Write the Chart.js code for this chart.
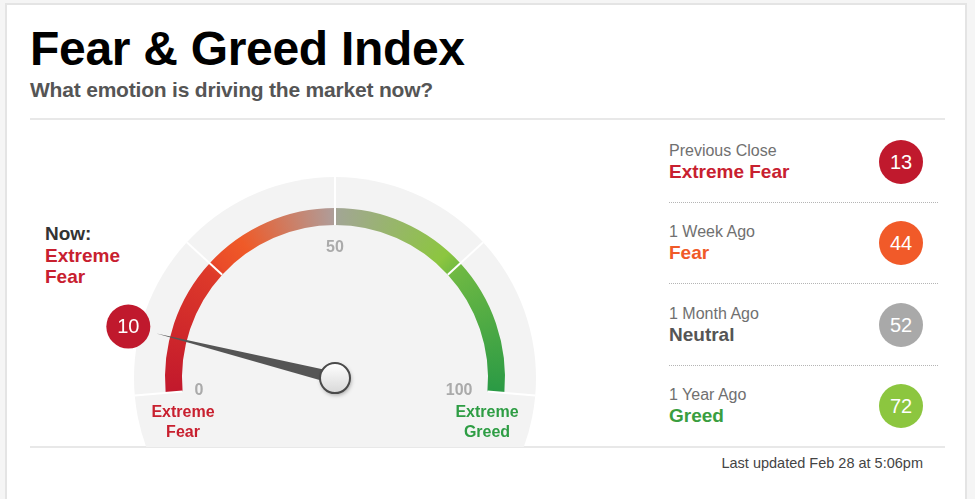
<!DOCTYPE html>
<html>
<head>
<meta charset="utf-8">
<title>Fear &amp; Greed Index</title>
<script src="https://cdn.jsdelivr.net/npm/chart.js@4.4.1/dist/chart.umd.min.js"></script>
<style>
  body { margin: 0; background: #f5f5f5; font-family: "Liberation Sans", Arial, sans-serif; }
  #frame { position: absolute; left: 5px; top: 3px; width: 958px; height: 600px; background: #fff; border: 2px solid #e4e4e4; }
  .abs { position: absolute; white-space: nowrap; }
  #title { left: 30px; top: 21px; font-size: 48px; font-weight: bold; color: #000; line-height: 56px; letter-spacing: -0.3px; }
  #subtitle { left: 30px; top: 78px; font-size: 21px; font-weight: bold; color: #555; line-height: 24px; letter-spacing: -0.2px; }
  .rule { position: absolute; left: 30px; width: 915px; height: 2px; background: #e8e8e8; }
  #now { left: 45px; top: 223px; font-size: 19px; font-weight: bold; line-height: 21.5px; }
  #updated { right: 52px; top: 455px; font-size: 14.5px; color: #444; }
  #gauge-wrap { position: absolute; left: 85px; top: 170px; width: 500px; height: 277px; }
  .hist-label { position: absolute; left: 669px; font-size: 16px; color: #707070; line-height: 18px; white-space: nowrap; }
  .hist-rating { position: absolute; left: 669px; font-size: 19px; font-weight: bold; line-height: 21px; white-space: nowrap; }
  .hist-bubble { position: absolute; left: 879px; width: 44px; height: 44px; border-radius: 50%; color: #fff; font-size: 20px; line-height: 44px; text-align: center; }
  .dots { position: absolute; left: 669px; width: 269px; border-top: 1px dotted #b5b5b5; }
</style>
</head>
<body>
<div id="frame"></div>
<div id="title" class="abs">Fear &amp; Greed Index</div>
<div id="subtitle" class="abs">What emotion is driving the market now?</div>
<div class="rule" style="top:118px"></div>
<div class="rule" style="top:446px"></div>
<div id="now" class="abs"></div>
<div id="gauge-wrap"><canvas id="gauge"></canvas></div>
<div id="history"></div>
<div id="updated" class="abs">Last updated Feb 28 at 5:06pm</div>

<script>
// gauge data
const bandEdges = [0, 25, 50, 75, 100];
const tickLabels = [0, 50, 100];
const currentValue = 10;
const currentRating = 'Extreme Fear';
const zoneLabels = [['Extreme', 'Fear'], ['Extreme', 'Greed']];

// history panel
const historyLabels = ['Previous Close', '1 Week Ago', '1 Month Ago', '1 Year Ago'];
const historyValues = [13, 44, 52, 72];
const historyRatings = ['Extreme Fear', 'Fear', 'Neutral', 'Greed'];

const ratingText = {
    'Extreme Fear': '#c8202f',
    'Fear': '#f05a28',
    'Neutral': '#555555',
    'Greed': '#3a9e3f',
    'Extreme Greed': '#2e9d44'
};
const ratingBubble = {
    'Extreme Fear': '#c0192d',
    'Fear': '#f15a29',
    'Neutral': '#a9a9a9',
    'Greed': '#8cc63f',
    'Extreme Greed': '#2e9d44'
};

// colour along the arc, by value
const arcStops = [
    [0, '#c2182c'], [24, '#de3a2a'],
    [26, '#ea4b29'], [32, '#ef5a28'], [49.5, '#b09c98'],
    [50.5, '#a2a694'], [72, '#8cc63f'],
    [76, '#6db843'], [100, '#2a9a45']
];

const SPAN = 190;
const ROT = -95;

function renderNow() {
    const el = document.getElementById('now');
    el.innerHTML = '<div style="color:#333">Now:</div>' +
        currentRating.split(' ').map(w => `<div style="color:${ratingText[currentRating]}">${w}</div>`).join('');
}

function renderHistory() {
    const box = document.getElementById('history');
    const pitch = 81.3;
    historyLabels.forEach((label, i) => {
        const top = 130 + i * pitch;
        const rating = historyRatings[i];
        box.innerHTML += `
            <div class="hist-label" style="top:${top + 12}px">${label}</div>
            <div class="hist-rating" style="top:${top + 31}px;color:${ratingText[rating]}">${rating}</div>
            <div class="hist-bubble" style="top:${top + 10}px;background:${ratingBubble[rating]}">${historyValues[i]}</div>
        `;
        if (i < historyLabels.length - 1) {
            box.innerHTML += `<div class="dots" style="top:${top + 72}px"></div>`;
        }
    });
}

function valueAngle(meta, v) {
    const first = meta.data[0];
    const last = meta.data[meta.data.length - 1];
    return first.startAngle + (last.endAngle - first.startAngle) * v / 100;
}

const gaugePlugin = {
    id: 'gauge',
    beforeDatasetsDraw(chart) {
        const meta = chart.getDatasetMeta(0);
        const arc = meta.data[0];
        const ctx = chart.ctx;
        const diskR = arc.outerRadius + 31;
        ctx.save();
        ctx.fillStyle = '#f3f3f3';
        ctx.beginPath();
        ctx.arc(arc.x, arc.y, diskR, 0, Math.PI * 2);
        ctx.fill();
        ctx.restore();
    },
    afterDatasetsDraw(chart) {
        const meta = chart.getDatasetMeta(0);
        const arc = meta.data[0];
        const ctx = chart.ctx;
        const cx = arc.x, cy = arc.y;
        const outer = arc.outerRadius, inner = arc.innerRadius;
        const diskR = outer + 31;
        ctx.save();

        // white tick lines
        ctx.strokeStyle = '#ffffff';
        ctx.lineWidth = 2;
        bandEdges.forEach(v => {
            const a = valueAngle(meta, v);
            ctx.beginPath();
            ctx.moveTo(cx + inner * Math.cos(a), cy + inner * Math.sin(a));
            ctx.lineTo(cx + diskR * Math.cos(a), cy + diskR * Math.sin(a));
            ctx.stroke();
        });

        // tick labels
        ctx.fillStyle = '#aaaaaa';
        ctx.font = 'bold 16px "Liberation Sans", Arial, sans-serif';
        tickLabels.forEach(v => {
            const a = valueAngle(meta, v);
            const r = inner - 15;
            const c = Math.cos(a), s = Math.sin(a);
            ctx.textAlign = c > 0.3 ? 'right' : (c < -0.3 ? 'left' : 'center');
            ctx.textBaseline = s < -0.5 ? 'top' : 'middle';
            ctx.fillText(String(v), cx + r * c - (c < -0.3 ? 3 : 0), cy + r * s);
        });

        // zone labels under the ends
        ctx.textAlign = 'center';
        ctx.textBaseline = 'middle';
        zoneLabels.forEach((lines, i) => {
            const x = cx + (i === 0 ? -1 : 1) * (inner - 1);
            ctx.fillStyle = i === 0 ? ratingText['Extreme Fear'] : ratingText['Extreme Greed'];
            lines.forEach((t, j) => ctx.fillText(t, x, cy + 35 + j * 20));
        });

        // needle
        const a = valueAngle(meta, currentValue);
        const c = Math.cos(a), s = Math.sin(a);
        const tipR = outer + 14;
        const hw = 6;
        ctx.fillStyle = '#555555';
        ctx.beginPath();
        ctx.moveTo(cx - s * hw, cy + c * hw);
        ctx.lineTo(cx + tipR * c, cy + tipR * s);
        ctx.lineTo(cx + s * hw, cy - c * hw);
        ctx.closePath();
        ctx.fill();

        // hub
        ctx.save();
        ctx.shadowColor = 'rgba(0,0,0,0.35)';
        ctx.shadowBlur = 4;
        ctx.shadowOffsetX = 1;
        ctx.shadowOffsetY = 2;
        const g = ctx.createLinearGradient(cx, cy - 15, cx, cy + 15);
        g.addColorStop(0, '#ffffff');
        g.addColorStop(1, '#d8d8d8');
        ctx.fillStyle = g;
        ctx.beginPath();
        ctx.arc(cx, cy, 15, 0, Math.PI * 2);
        ctx.fill();
        ctx.restore();
        ctx.strokeStyle = '#4a4a4a';
        ctx.lineWidth = 2;
        ctx.beginPath();
        ctx.arc(cx, cy, 15, 0, Math.PI * 2);
        ctx.stroke();

        // value bubble
        const bR = outer + 43;
        const bx = cx + bR * c, by = cy + bR * s;
        ctx.fillStyle = ratingBubble[currentRating];
        ctx.beginPath();
        ctx.arc(bx, by, 22, 0, Math.PI * 2);
        ctx.fill();
        ctx.fillStyle = '#ffffff';
        ctx.font = '20px "Liberation Sans", Arial, sans-serif';
        ctx.textAlign = 'center';
        ctx.textBaseline = 'middle';
        ctx.fillText(String(currentValue), bx, by + 1);

        ctx.restore();
    }
};

function arcGradient(context) {
    const chart = context.chart;
    const area = chart.chartArea;
    const ctrl = chart.getDatasetMeta(0).controller;
    if (!area || ctrl.offsetY === undefined) return '#c2182c';
    const cx = (area.left + area.right) / 2 + ctrl.offsetX;
    const cy = (area.top + area.bottom) / 2 + ctrl.offsetY;
    const start = (ROT - 90) * Math.PI / 180;
    const g = chart.ctx.createConicGradient(start, cx, cy);
    arcStops.forEach(([v, col]) => g.addColorStop(v / 100 * SPAN / 360, col));
    return g;
}

function renderGauge() {
    const segs = bandEdges.slice(1).map((v, i) => v - bandEdges[i]);
    new Chart(document.getElementById('gauge'), {
        type: 'doughnut',
        data: {
            labels: ['Extreme Fear', 'Fear', 'Greed', 'Extreme Greed'],
            datasets: [{
                data: segs,
                backgroundColor: arcGradient,
                borderWidth: 0
            }]
        },
        options: {
            responsive: true,
            maintainAspectRatio: false,
            animation: false,
            rotation: ROT,
            circumference: SPAN,
            radius: 170,
            cutout: '90%',
            layout: { padding: { bottom: 16 } },
            plugins: {
                legend: { display: false },
                tooltip: { enabled: false }
            },
            events: []
        },
        plugins: [gaugePlugin]
    });
}

window.onload = function() {
    renderNow();
    renderHistory();
    renderGauge();
};
</script>
</body>
</html>
